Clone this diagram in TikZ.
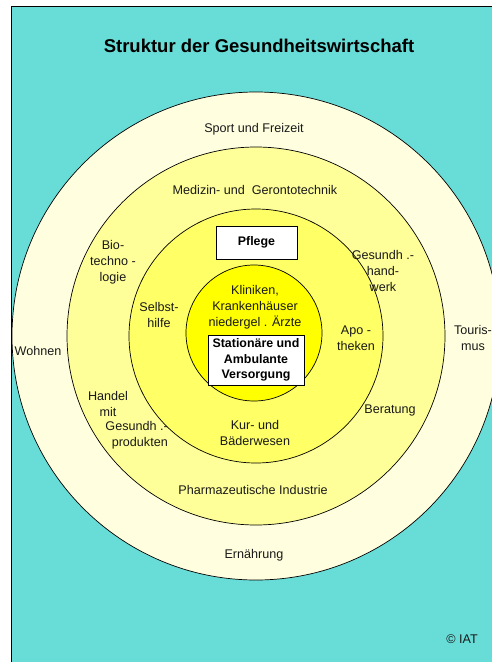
\documentclass[tikz,border=0pt]{standalone}
\usepackage{fontspec}
\setmainfont{Liberation Sans}
\definecolor{bgcyan}{RGB}{104,221,216}
\definecolor{ringA}{RGB}{255,255,224}
\definecolor{ringB}{RGB}{255,255,153}
\definecolor{ringC}{RGB}{255,255,102}
\definecolor{ringD}{RGB}{255,255,0}
\tikzset{
  lbl/.style={inner sep=0pt, align=center, font=\fontsize{12.6}{16}\selectfont, text=black!90},
  whitebox/.style={draw=black, line width=0.8pt, fill=white, inner sep=0pt, align=center,
    font=\bfseries\fontsize{12.4}{15.7}\selectfont},
  ring/.style={draw=black, line width=0.7pt}
}
\begin{document}
\begin{tikzpicture}[x=1pt,y=-1pt]
\useasboundingbox (0,0) rectangle (491,662);
% background frame
\fill[white] (0,0) rectangle (491,662);
\draw[fill=bgcyan, line width=1pt] (11,6) rectangle (500,670);
% rings
\coordinate (c) at (256,336);
\draw[ring, fill=ringA] (c) circle[radius=244];
\draw[ring, fill=ringB] (c) circle[radius=189];
\draw[ring, fill=ringC] (c) circle[radius=127];
\draw[ring, fill=ringD] (254,333) circle[radius=68];
% title
\node[inner sep=0pt, font=\bfseries\fontsize{18.5}{22}\selectfont] (title) at (259,46) {Struktur der Gesundheitswirtschaft};
% outer ring labels
\node[lbl] (sport) at (254,129) {Sport und Freizeit};
\node[lbl] (wohnen) at (38,351) {Wohnen};
\node[lbl] (touris) at (473,338) {Touris-\\mus};
\node[lbl] (ern) at (254,555) {Ernährung};
% second ring labels
\node[lbl] (med) at (255,190) {Medizin- und\ \ Gerontotechnik};
\node[lbl] (bio) at (113,262) {Bio-\\techno -\\logie};
\node[lbl] (handw) at (383,271) {Gesundh .-\\hand-\\werk};
\node[lbl] (handel) at (108,403.5) {Handel\\mit};
\node[lbl, align=right, anchor=east] (gprod) at (168,435.5) {Gesundh .-\\produkten};
\node[lbl] (berat) at (390,410) {Beratung};
\node[lbl] (pharma) at (253,490) {Pharmazeutische Industrie};
% third ring labels
\node[whitebox, minimum width=81pt, minimum height=33pt] (pflege) at (256.5,242.5) {Pflege};
\node[lbl] (selbst) at (159,315) {Selbst-\\hilfe};
\node[lbl] (apo) at (356,338) {Apo -\\theken};
\node[lbl] (kur) at (255,433) {Kur- und\\Bäderwesen};
% inner circle
\node[lbl] (klin) at (255,307) {Kliniken,\\Krankenhäuser\\niedergel . Ärzte};
\node[whitebox, minimum width=96pt, minimum height=50pt] (stat) at (256,360) {Stationäre und\\Ambulante\\Versorgung};
% copyright
\node[lbl] (iat) at (462,639) {© IAT};
\end{tikzpicture}
\end{document}
